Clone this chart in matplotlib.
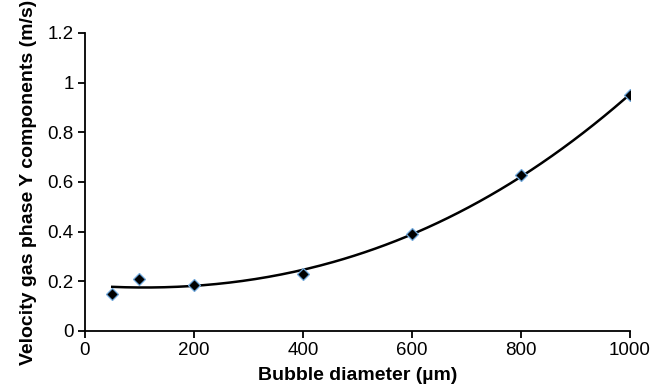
import numpy as np
import matplotlib
matplotlib.use('Agg')
import matplotlib.pyplot as plt

plt.rcParams['font.family'] = ['Liberation Sans', 'DejaVu Sans']

# measured points
diameter = np.array([50, 100, 200, 400, 600, 800, 1000])
velocity = np.array([0.15, 0.21, 0.185, 0.23, 0.39, 0.63, 0.95])

x_ticks = [0, 200, 400, 600, 800, 1000]
y_ticks = [0, 0.2, 0.4, 0.6, 0.8, 1.0, 1.2]
y_ticklabels = ['0', '0.2', '0.4', '0.6', '0.8', '1', '1.2']

# polynomial trend line (order 3) through the points
coef = np.polyfit(diameter, velocity, 3)
xf = np.linspace(diameter.min(), diameter.max(), 200)
yf = np.polyval(coef, xf)

fig = plt.figure(figsize=(6.66, 3.88), dpi=100)
ax = fig.add_axes([0.1276, 0.147, 0.8184, 0.768])

ax.plot(xf, yf, color='black', lw=1.8, zorder=2)
ax.plot(diameter, velocity, ls='none', marker='D', ms=6.5, mfc='black',
        mec='#6fa8dc', mew=0.9, zorder=3)

ax.set_xlim(0, 1000)
ax.set_ylim(0, 1.2)
ax.set_xticks(x_ticks)
ax.set_yticks(y_ticks)
ax.set_yticklabels(y_ticklabels)
ax.tick_params(direction='out', length=5, width=1.3, labelsize=13.5, pad=3)

for side in ['top', 'right']:
    ax.spines[side].set_visible(False)
for side in ['left', 'bottom']:
    ax.spines[side].set_linewidth(1.3)

ax.set_xlabel('Bubble diameter (µm)', fontsize=14, fontweight='bold', labelpad=6)
ax.set_ylabel('Velocity gas phase Y components (m/s)', fontsize=14, fontweight='bold', labelpad=8)

fig.savefig('out.png', dpi=100)
